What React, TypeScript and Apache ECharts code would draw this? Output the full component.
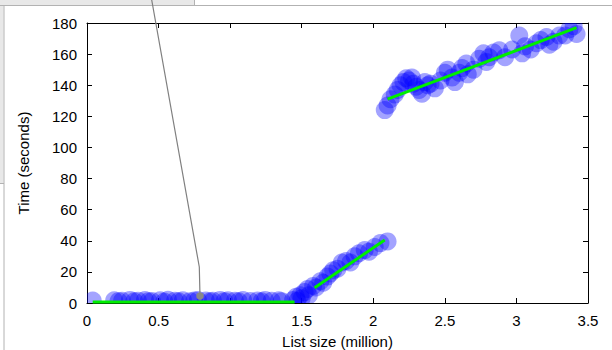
import React, { useEffect, useRef } from "react";
import * as echarts from "echarts";

const xTickLabels = ["0", "0.5", "1", "1.5", "2", "2.5", "3", "3.5"];
const yTickLabels = ["0", "20", "40", "60", "80", "100", "120", "140", "160", "180"];

// measured points: [list size (million), time (seconds)]
const flatPoints: [number, number][] = [
  [0.04, 1.6], [0.19, 1.8], [0.22, 1.2], [0.245, 1.4], [0.3, 2.0], [0.33, 1.1], [0.356, 1.5],
  [0.405, 1.9], [0.43, 1.2], [0.454, 1.3], [0.51, 1.7], [0.54, 1.0], [0.566, 2.1], [0.615, 1.5],
  [0.64, 1.1], [0.67, 1.8], [0.72, 1.2], [0.75, 1.6], [0.775, 1.9], [0.83, 1.6], [0.86, 1.1],
  [0.88, 1.4], [0.93, 2.0], [0.96, 1.2], [0.985, 1.7], [1.034, 1.5], [1.06, 1.1], [1.09, 1.9],
  [1.14, 1.3], [1.19, 1.6], [1.22, 1.1], [1.244, 2.0], [1.29, 1.4], [1.34, 1.8], [1.36, 1.2],
];

const rampPoints: [number, number][] = [
  [1.44, 2], [1.46, 4], [1.47, 1.5], [1.49, 5], [1.5, 3], [1.52, 7], [1.54, 9],
  [1.55, 5], [1.58, 11], [1.6, 10], [1.63, 14], [1.65, 13], [1.68, 17], [1.7, 19],
  [1.72, 21], [1.75, 22], [1.78, 26], [1.81, 27], [1.84, 26], [1.87, 30], [1.9, 32],
  [1.94, 34], [1.97, 33], [2.01, 36], [2.05, 38.5], [2.1, 39.6],
];

const highPoints: [number, number][] = [
  [2.08, 124], [2.1, 127], [2.12, 131], [2.15, 134], [2.17, 137], [2.19, 140],
  [2.21, 142], [2.23, 144.5], [2.25, 143], [2.27, 145], [2.28, 141], [2.3, 139],
  [2.32, 137], [2.34, 134.5], [2.36, 142], [2.38, 140], [2.4, 141], [2.43, 138],
  [2.47, 143], [2.5, 148], [2.52, 150], [2.55, 145], [2.57, 142], [2.6, 148],
  [2.62, 151], [2.65, 154], [2.66, 147], [2.7, 150], [2.74, 157], [2.77, 160.5],
  [2.79, 155], [2.81, 158], [2.84, 161], [2.88, 162.5], [2.92, 158], [2.97, 163],
  [3.02, 172], [3.04, 160.5], [3.06, 165], [3.1, 163], [3.14, 167], [3.17, 169],
  [3.21, 171], [3.23, 166], [3.26, 168], [3.3, 172], [3.34, 172], [3.37, 176],
  [3.4, 178], [3.42, 173],
];

const fitLow: [number, number][] = [[0.04, 0.7], [1.45, 0.7]];
const fitMid: [number, number][] = [[1.59, 9.8], [2.08, 40.5]];
const fitHigh: [number, number][] = [[2.1, 131], [3.42, 177]];

const FONT = "'Liberation Sans', Arial, Helvetica, sans-serif";

export default function App() {
  const ref = useRef<HTMLDivElement>(null);
  useEffect(() => {
    const chart = echarts.init(ref.current!, null, { renderer: "svg" });

    const circles = (data: [number, number][]) => ({
      type: "custom",
      data,
      clip: true,
      xAxisIndex: 0,
      yAxisIndex: 0,
      encode: { x: 0, y: 1 },
      z: 2,
      renderItem: (_params: any, api: any) => {
        const p = api.coord([api.value(0), api.value(1)]);
        return {
          type: "circle",
          shape: { cx: p[0], cy: p[1], r: 9 },
          style: { fill: "rgba(0,0,255,0.36)" },
        };
      },
    });

    const fit = (data: [number, number][]) => ({
      type: "line",
      data,
      xAxisIndex: 0,
      yAxisIndex: 0,
      symbol: "none",
      clip: true,
      z: 3,
      lineStyle: { color: "#00ee00", width: 3 },
    });

    const axisCommon = {
      type: "value",
      splitLine: { show: false },
      axisLine: { show: true, onZero: false, lineStyle: { color: "#000", width: 1 } },
      axisTick: { show: true, inside: true, length: 5, lineStyle: { color: "#000" } },
    };

    const gray = "#e8e8e8";
    const edge = "#b2b2b2";

    chart.setOption({
      animation: false,
      backgroundColor: "#fff",
      grid: { left: 87, right: 24, top: 23, bottom: 47, containLabel: false, outerBoundsMode: "none" },
      xAxis: [
        {
          ...axisCommon,
          position: "bottom",
          min: 0,
          max: 3.5,
          interval: 0.5,
          axisLabel: {
            color: "#000",
            fontSize: 15,
            fontFamily: FONT,
            margin: 10,
            formatter: (v: number) => xTickLabels[Math.round(v / 0.5)] ?? String(v),
          },
          name: "List size (million)",
          nameLocation: "middle",
          nameGap: 31,
          nameTextStyle: { color: "#000", fontSize: 15, fontFamily: FONT },
        },
        {
          ...axisCommon,
          position: "top",
          min: 0,
          max: 3.5,
          interval: 0.5,
          axisLabel: { show: false },
        },
      ],
      yAxis: [
        {
          ...axisCommon,
          position: "left",
          min: 0,
          max: 180,
          interval: 20,
          axisLabel: {
            color: "#000",
            fontSize: 15,
            fontFamily: FONT,
            margin: 10,
            formatter: (v: number) => yTickLabels[Math.round(v / 20)] ?? String(v),
          },
          name: "Time (seconds)",
          nameLocation: "middle",
          nameGap: 56,
          nameTextStyle: { color: "#000", fontSize: 15, fontFamily: FONT },
        },
        {
          ...axisCommon,
          position: "right",
          min: 0,
          max: 180,
          interval: 20,
          axisLabel: { show: false },
        },
      ],
      series: [
        circles(flatPoints),
        circles(rampPoints),
        circles(highPoints),
        fit(fitLow),
        fit(fitMid),
        fit(fitHigh),
      ],
      graphic: [
        { type: "rect", z: 50, shape: { x: 0, y: 0, width: 194, height: 5 }, style: { fill: gray } },
        { type: "rect", z: 50, shape: { x: 0, y: 6, width: 3.5, height: 177 }, style: { fill: gray } },
        { type: "line", z: 51, shape: { x1: 0, y1: 5.5, x2: 612, y2: 5.5 }, style: { stroke: edge, lineWidth: 1 } },
        { type: "line", z: 51, shape: { x1: 194.5, y1: 0, x2: 194.5, y2: 5.5 }, style: { stroke: edge, lineWidth: 1 } },
        { type: "line", z: 51, shape: { x1: 0, y1: 183.5, x2: 4, y2: 183.5 }, style: { stroke: edge, lineWidth: 1 } },
        { type: "line", z: 51, shape: { x1: 4, y1: 5.5, x2: 4, y2: 350 }, style: { stroke: edge, lineWidth: 1 } },
        {
          type: "polyline",
          z: 60,
          shape: { points: [[151.7, 0], [199.3, 267], [200, 296]] },
          style: { stroke: "#808080", lineWidth: 1.2, fill: "none" },
        },
        { type: "circle", z: 61, shape: { cx: 200, cy: 296, r: 3.8 }, style: { fill: "#888" } },
      ],
    });
    return () => chart.dispose();
  }, []);
  return (
    <div
      ref={ref}
      style={{ position: "fixed", left: 0, top: 0, width: 612, height: 350 }}
    />
  );
}
